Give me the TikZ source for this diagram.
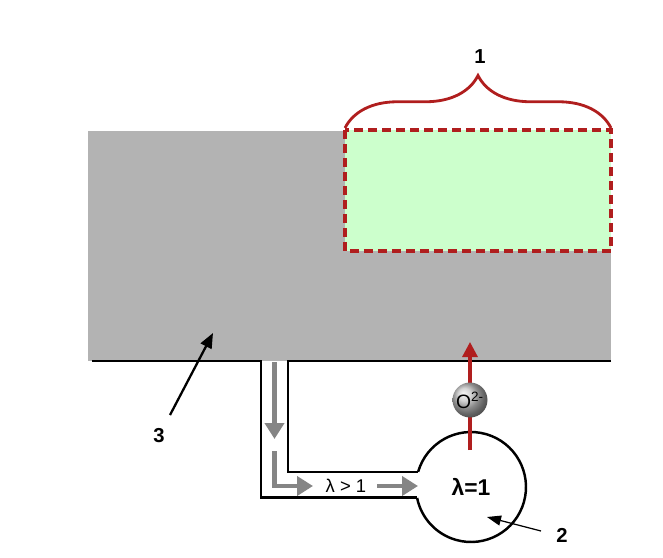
\documentclass[tikz,border=0pt]{standalone}
\usepackage{fontspec}
\setmainfont{Liberation Sans}
\usetikzlibrary{arrows.meta,decorations.pathreplacing,shadings}
\definecolor{bodygray}{HTML}{B3B3B3}
\definecolor{zonegreen}{HTML}{CCFFCC}
\definecolor{brick}{HTML}{B01E1E}
\definecolor{flowgray}{HTML}{858585}
\tikzset{
  wall/.style={black,line width=1.4pt},
  flow/.style={flowgray,line width=2.8pt,-{Triangle[width=0.38cm,length=0.32cm]}},
  ionpath/.style={brick,line width=1.8pt,-{Triangle[width=0.3cm,length=0.3cm]}},
  pointer/.style={black,line width=1.3pt,-{Triangle[width=0.24cm,length=0.3cm]}},
  thinpointer/.style={black,line width=0.7pt,-{Triangle[width=0.2cm,length=0.28cm]}},
  tag/.style={font=\bfseries\fontsize{11.5}{13}\selectfont},
}
\begin{document}
\begin{tikzpicture}[x=0.02cm,y=-0.02cm]
    \useasboundingbox (0,0) rectangle (663,558);
    % body and reaction zone
    \fill[bodygray] (88,131) rectangle (611,361);
    \draw[fill=zonegreen,draw=brick,line width=2pt,dash pattern=on 0.18cm off 0.1cm]
        (345,130) rectangle (611,251);
    \draw[brick,line width=1.6pt,decorate,decoration={brace,amplitude=1.05cm}]
        (345,128) -- (611,128);
    \node[tag] (zone) at (480,57) {1};

    % chamber and pipe
    \node[circle,minimum size=2.2cm,inner sep=0pt,outer sep=0pt,
          font=\bfseries\fontsize{13}{15}\selectfont] (ch) at (471,487) {λ=1};
    \draw[wall] (ch.164) arc[start angle=164,end angle=-168.5,radius=1.1cm];
    \draw[wall] (92,361) -- (261,361) |- (ch.191.5);
    \draw[wall] (611,361) -- (288,361) |- (ch.164);

    % gas flow
    \node[font=\fontsize{10.5}{12}\selectfont] (lean) at (346,486) {λ > 1};
    \coordinate (inlet) at (274.5,362);
    \coordinate (drop) at (274.5,439);
    \coordinate (bend) at (274.5,451);
    \coordinate (turn) at (313,486);
    \coordinate (feed) at (377,486);
    \coordinate (mouth) at (418,486);
    \draw[flow] (inlet) -- (drop);
    \draw[flow] (bend) |- (turn);
    \draw[flow] (feed) -- (mouth);

    % oxygen ion
    \coordinate (ionstart) at (470,450);
    \coordinate (ionend) at (470,342);
    \draw[ionpath] (ionstart) -- (ionend);
    \node[circle,minimum size=0.7cm,inner sep=0pt,ball color=gray!45,
          font=\fontsize{11}{12}\selectfont] (oxy) at (470,400) {O\textsuperscript{2-}};

    % pointers
    \node[tag] (body) at (159,436) {3};
    \coordinate (bodytail) at (170,415);
    \coordinate (bodytip) at (213,333);
    \draw[pointer] (bodytail) -- (bodytip);
    \node[tag] (chamber) at (562,535) {2};
    \coordinate (chtail) at (541,531);
    \coordinate (chtip) at (487,517);
    \draw[thinpointer] (chtail) -- (chtip);
\end{tikzpicture}
\end{document}
